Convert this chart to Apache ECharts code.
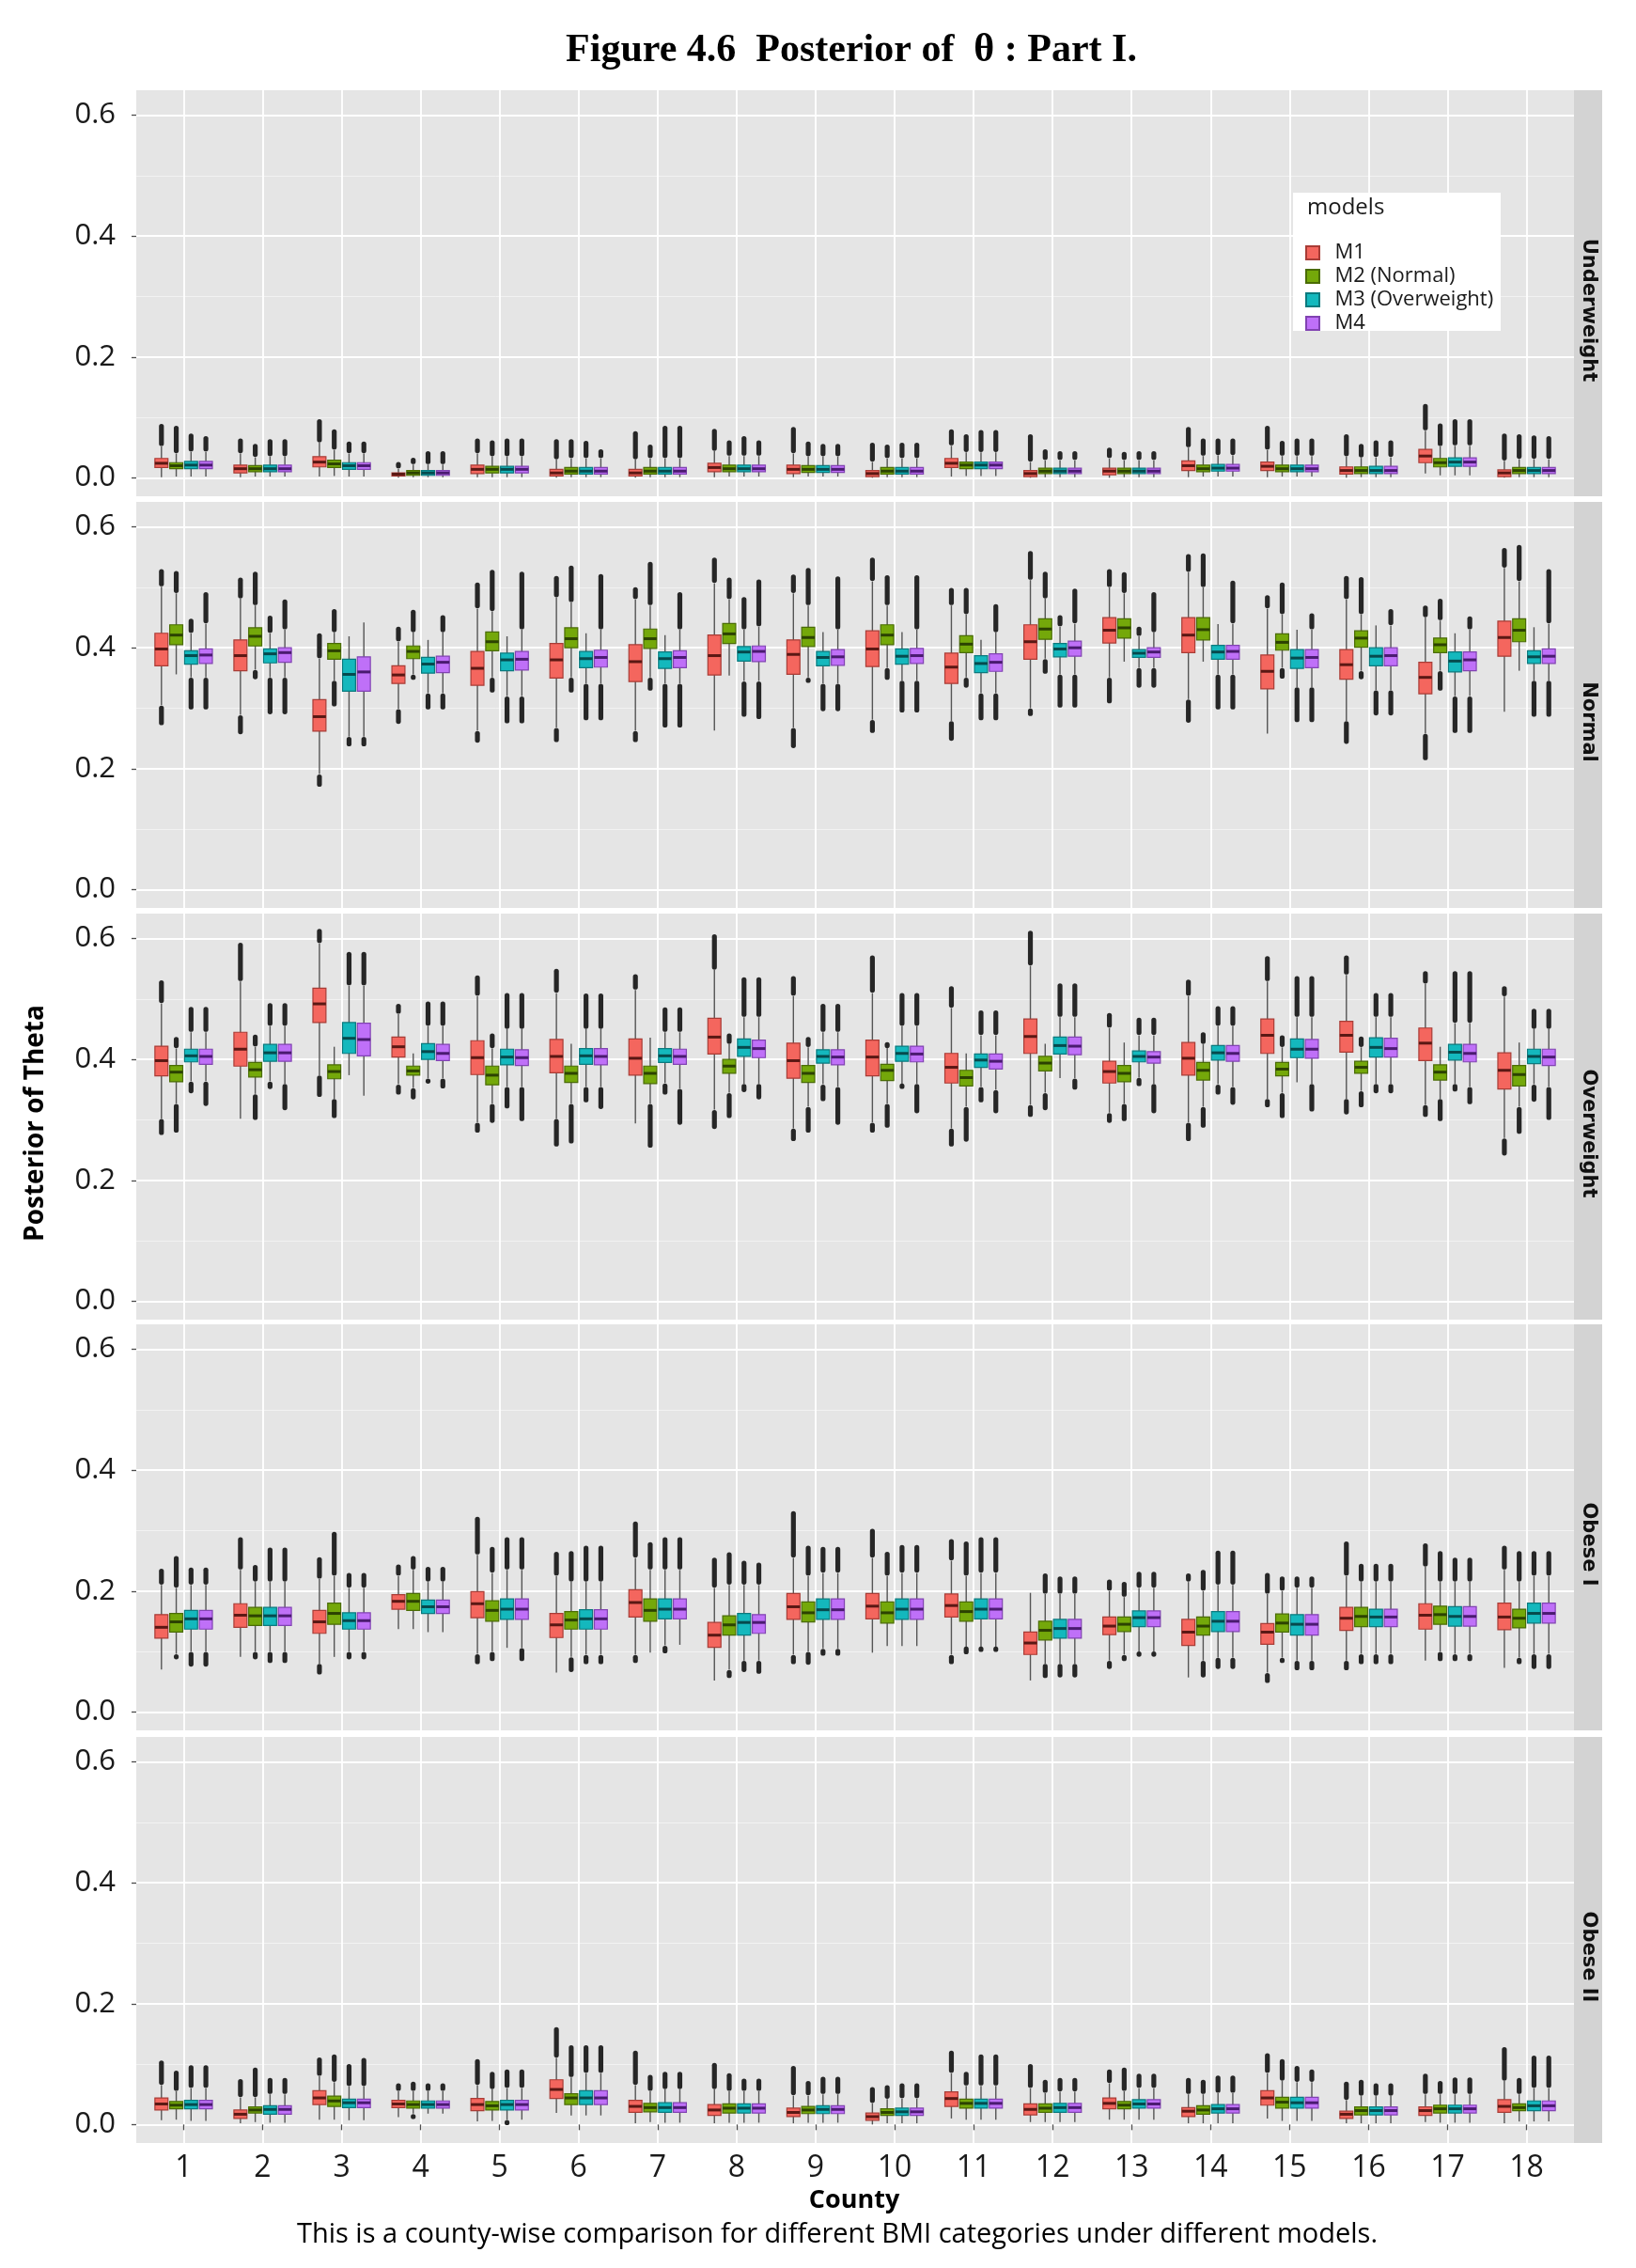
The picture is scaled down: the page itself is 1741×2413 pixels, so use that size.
<!DOCTYPE html>
<html>
<head>
<meta charset="utf-8">
<script src="https://cdn.jsdelivr.net/npm/echarts@6.0.0/dist/echarts.min.js"></script>
<style>
html, body { margin: 0; padding: 0; background: #fff; }
#chart { width: 1741px; height: 2413px; }
</style>
</head>
<body>
<div id="chart"></div>
<script>
// categories
const counties = [1, 2, 3, 4, 5, 6, 7, 8, 9, 10, 11, 12, 13, 14, 15, 16, 17, 18];
const models = ['M1', 'M2 (Normal)', 'M3 (Overweight)', 'M4'];
const panels = ['Underweight', 'Normal', 'Overweight', 'Obese I', 'Obese II'];
const yMajor = [0, 0.2, 0.4, 0.6];
const yMinor = [0.1, 0.3, 0.5];

// one row per county: [lower whisker, q1, median, q3, upper whisker, lowest outlier, highest outlier]
const underM1 = [
  [0.001, 0.017, 0.024, 0.032, 0.052, null, 0.085], [0.001, 0.008, 0.015, 0.021, 0.040, null, 0.061],
  [0.002, 0.018, 0.026, 0.035, 0.058, null, 0.093], [0.000, 0.003, 0.006, 0.008, 0.015, null, 0.022],
  [0.001, 0.007, 0.014, 0.021, 0.040, null, 0.061], [0.000, 0.003, 0.008, 0.014, 0.030, null, 0.060],
  [0.000, 0.003, 0.008, 0.014, 0.030, null, 0.073], [0.001, 0.010, 0.017, 0.024, 0.044, null, 0.077],
  [0.001, 0.007, 0.014, 0.021, 0.040, null, 0.080], [0.000, 0.002, 0.007, 0.012, 0.026, null, 0.054],
  [0.002, 0.017, 0.024, 0.032, 0.053, null, 0.076], [0.000, 0.002, 0.007, 0.012, 0.026, null, 0.068],
  [0.000, 0.005, 0.011, 0.016, 0.032, null, 0.046], [0.001, 0.012, 0.020, 0.028, 0.050, null, 0.080],
  [0.001, 0.012, 0.019, 0.026, 0.046, null, 0.082], [0.000, 0.006, 0.012, 0.018, 0.035, null, 0.068],
  [0.007, 0.025, 0.036, 0.047, 0.078, null, 0.118], [0.000, 0.002, 0.008, 0.013, 0.028, null, 0.069]
];
const underM2 = [
  [0.002, 0.015, 0.020, 0.025, 0.040, null, 0.082], [0.002, 0.010, 0.015, 0.020, 0.034, null, 0.052],
  [0.003, 0.017, 0.023, 0.029, 0.046, null, 0.076], [0.001, 0.004, 0.008, 0.012, 0.022, null, 0.029],
  [0.001, 0.008, 0.014, 0.019, 0.035, null, 0.058], [0.001, 0.006, 0.011, 0.017, 0.032, null, 0.060],
  [0.001, 0.006, 0.011, 0.017, 0.032, null, 0.051], [0.002, 0.010, 0.015, 0.021, 0.036, null, 0.058],
  [0.002, 0.009, 0.014, 0.020, 0.035, null, 0.056], [0.001, 0.006, 0.011, 0.017, 0.032, null, 0.051],
  [0.003, 0.015, 0.021, 0.026, 0.042, null, 0.068], [0.001, 0.007, 0.011, 0.016, 0.029, null, 0.043],
  [0.001, 0.007, 0.011, 0.016, 0.029, null, 0.039], [0.002, 0.010, 0.015, 0.021, 0.036, null, 0.061],
  [0.002, 0.010, 0.015, 0.021, 0.036, null, 0.057], [0.001, 0.007, 0.012, 0.018, 0.033, null, 0.052],
  [0.004, 0.018, 0.025, 0.032, 0.052, null, 0.086], [0.001, 0.007, 0.012, 0.017, 0.031, null, 0.068]
];
const underM3 = [
  [0.002, 0.015, 0.021, 0.027, 0.043, null, 0.069], [0.002, 0.010, 0.015, 0.021, 0.035, null, 0.060],
  [0.002, 0.014, 0.020, 0.025, 0.040, null, 0.056], [0.001, 0.004, 0.008, 0.012, 0.022, null, 0.040],
  [0.001, 0.008, 0.014, 0.019, 0.035, null, 0.061], [0.001, 0.006, 0.011, 0.017, 0.032, null, 0.057],
  [0.001, 0.006, 0.011, 0.017, 0.032, null, 0.082], [0.002, 0.010, 0.015, 0.021, 0.036, null, 0.065],
  [0.002, 0.009, 0.014, 0.020, 0.035, null, 0.052], [0.001, 0.006, 0.011, 0.017, 0.032, null, 0.054],
  [0.003, 0.015, 0.021, 0.026, 0.042, null, 0.075], [0.001, 0.007, 0.011, 0.016, 0.029, null, 0.040],
  [0.001, 0.007, 0.011, 0.016, 0.029, null, 0.040], [0.002, 0.011, 0.016, 0.022, 0.037, null, 0.061],
  [0.002, 0.010, 0.015, 0.021, 0.036, null, 0.061], [0.001, 0.007, 0.012, 0.019, 0.034, null, 0.058],
  [0.004, 0.019, 0.026, 0.033, 0.053, null, 0.093], [0.001, 0.007, 0.012, 0.017, 0.031, null, 0.066]
];
const underM4 = [
  [0.002, 0.015, 0.021, 0.027, 0.043, null, 0.065], [0.002, 0.010, 0.015, 0.021, 0.035, null, 0.060],
  [0.002, 0.014, 0.020, 0.025, 0.040, null, 0.056], [0.001, 0.004, 0.008, 0.012, 0.022, null, 0.040],
  [0.001, 0.008, 0.014, 0.019, 0.035, null, 0.061], [0.001, 0.006, 0.011, 0.017, 0.032, null, 0.043],
  [0.001, 0.006, 0.011, 0.017, 0.032, null, 0.082], [0.002, 0.010, 0.015, 0.021, 0.036, null, 0.058],
  [0.002, 0.009, 0.014, 0.020, 0.035, null, 0.052], [0.001, 0.006, 0.011, 0.017, 0.032, null, 0.054],
  [0.003, 0.015, 0.021, 0.026, 0.042, null, 0.075], [0.001, 0.007, 0.011, 0.016, 0.029, null, 0.040],
  [0.001, 0.007, 0.011, 0.016, 0.029, null, 0.040], [0.002, 0.011, 0.016, 0.022, 0.037, null, 0.061],
  [0.002, 0.010, 0.015, 0.021, 0.036, null, 0.061], [0.001, 0.007, 0.012, 0.019, 0.034, null, 0.058],
  [0.004, 0.019, 0.026, 0.033, 0.053, null, 0.093], [0.001, 0.007, 0.012, 0.017, 0.031, null, 0.065]
];

const normalM1 = [
  [0.305, 0.370, 0.398, 0.424, 0.501, 0.276, 0.526], [0.289, 0.362, 0.387, 0.413, 0.481, 0.261, 0.512],
  [0.191, 0.262, 0.286, 0.314, 0.382, 0.174, 0.420], [0.299, 0.341, 0.355, 0.370, 0.410, 0.278, 0.431],
  [0.263, 0.338, 0.366, 0.394, 0.465, 0.247, 0.504], [0.268, 0.350, 0.380, 0.407, 0.483, 0.248, 0.515],
  [0.263, 0.344, 0.377, 0.405, 0.480, 0.248, 0.496], [0.263, 0.355, 0.387, 0.421, 0.507, null, 0.545],
  [0.268, 0.356, 0.389, 0.413, 0.490, 0.238, 0.517], [0.281, 0.369, 0.398, 0.428, 0.510, 0.263, 0.545],
  [0.279, 0.341, 0.368, 0.391, 0.470, 0.250, 0.495], [0.300, 0.381, 0.410, 0.438, 0.512, 0.291, 0.556],
  [0.351, 0.408, 0.429, 0.450, 0.500, 0.312, 0.526], [0.315, 0.392, 0.421, 0.450, 0.525, 0.280, 0.551],
  [0.258, 0.332, 0.361, 0.388, 0.465, null, 0.483], [0.279, 0.348, 0.372, 0.397, 0.480, 0.245, 0.515],
  [0.258, 0.324, 0.351, 0.376, 0.450, 0.218, 0.466], [0.294, 0.386, 0.417, 0.444, 0.532, null, 0.561]
];
const normalM2 = [
  [0.356, 0.405, 0.421, 0.438, 0.490, null, 0.523], [0.364, 0.403, 0.419, 0.433, 0.470, 0.352, 0.522],
  [0.346, 0.381, 0.395, 0.407, 0.425, 0.307, 0.460], [0.356, 0.382, 0.394, 0.403, 0.425, 0.351, 0.459],
  [0.351, 0.395, 0.410, 0.426, 0.460, 0.330, 0.525], [0.351, 0.400, 0.415, 0.433, 0.475, 0.330, 0.532],
  [0.351, 0.399, 0.415, 0.431, 0.470, 0.333, 0.538], [0.354, 0.407, 0.423, 0.440, 0.480, null, 0.512],
  [0.351, 0.402, 0.417, 0.434, 0.470, 0.346, 0.528], [0.367, 0.405, 0.421, 0.438, 0.470, 0.351, 0.516],
  [0.351, 0.392, 0.406, 0.420, 0.455, 0.338, 0.495], [0.382, 0.414, 0.431, 0.448, 0.481, 0.361, 0.522],
  [0.377, 0.416, 0.433, 0.448, 0.490, null, 0.521], [0.377, 0.413, 0.430, 0.450, 0.500, null, 0.552],
  [0.367, 0.396, 0.409, 0.423, 0.455, 0.353, 0.504], [0.362, 0.401, 0.416, 0.428, 0.455, 0.352, 0.513],
  [0.362, 0.392, 0.405, 0.416, 0.445, 0.333, 0.477], [0.362, 0.410, 0.429, 0.448, 0.510, null, 0.566]
];
const normalM3 = [
  [0.351, 0.373, 0.387, 0.395, 0.424, 0.302, 0.444], [0.351, 0.375, 0.390, 0.398, 0.424, 0.294, 0.449],
  [0.253, 0.328, 0.356, 0.381, 0.419, 0.241, null], [0.325, 0.358, 0.373, 0.384, 0.413, 0.302, null],
  [0.320, 0.362, 0.380, 0.391, 0.419, 0.279, null], [0.341, 0.367, 0.382, 0.394, 0.424, 0.284, null],
  [0.341, 0.366, 0.382, 0.393, 0.421, 0.272, null], [0.345, 0.378, 0.393, 0.402, 0.430, 0.290, 0.480],
  [0.341, 0.370, 0.384, 0.394, 0.426, 0.299, null], [0.346, 0.373, 0.386, 0.398, 0.426, 0.297, null],
  [0.325, 0.359, 0.374, 0.387, 0.413, 0.284, null], [0.356, 0.385, 0.398, 0.407, 0.435, 0.305, 0.450],
  [0.367, 0.384, 0.391, 0.397, 0.419, 0.338, 0.431], [0.356, 0.381, 0.393, 0.404, 0.439, 0.302, null],
  [0.335, 0.366, 0.383, 0.397, 0.430, 0.281, null], [0.330, 0.370, 0.386, 0.400, 0.437, 0.292, null],
  [0.320, 0.360, 0.378, 0.393, 0.424, 0.263, null], [0.346, 0.374, 0.385, 0.395, 0.434, 0.290, null]
];
const normalM4 = [
  [0.351, 0.374, 0.388, 0.398, 0.440, 0.302, 0.488], [0.351, 0.376, 0.392, 0.400, 0.430, 0.294, 0.476],
  [0.253, 0.328, 0.360, 0.385, 0.442, 0.241, null], [0.325, 0.359, 0.376, 0.386, 0.425, 0.302, 0.450],
  [0.320, 0.363, 0.381, 0.394, 0.430, 0.279, 0.522], [0.341, 0.368, 0.384, 0.396, 0.430, 0.284, 0.518],
  [0.341, 0.367, 0.384, 0.395, 0.430, 0.272, 0.488], [0.345, 0.377, 0.394, 0.403, 0.435, 0.286, 0.509],
  [0.341, 0.371, 0.385, 0.397, 0.430, 0.299, 0.514], [0.346, 0.374, 0.387, 0.399, 0.430, 0.297, 0.516],
  [0.325, 0.361, 0.376, 0.390, 0.425, 0.284, 0.468], [0.356, 0.386, 0.400, 0.411, 0.440, 0.305, 0.494],
  [0.367, 0.384, 0.393, 0.400, 0.425, 0.338, 0.488], [0.356, 0.381, 0.394, 0.404, 0.440, 0.302, 0.507],
  [0.335, 0.367, 0.384, 0.397, 0.430, 0.281, 0.453], [0.330, 0.370, 0.387, 0.400, 0.437, 0.292, 0.460],
  [0.320, 0.362, 0.380, 0.393, 0.430, 0.263, 0.448], [0.346, 0.374, 0.386, 0.398, 0.440, 0.290, 0.526]
];

const overM1 = [
  [0.302, 0.373, 0.398, 0.422, 0.493, 0.279, 0.527], [0.302, 0.389, 0.417, 0.445, 0.529, null, 0.589],
  [0.374, 0.461, 0.492, 0.518, 0.592, 0.342, 0.612], [0.359, 0.404, 0.421, 0.437, 0.475, 0.346, 0.488],
  [0.296, 0.375, 0.403, 0.431, 0.505, 0.283, 0.535], [0.302, 0.378, 0.405, 0.433, 0.510, 0.260, 0.546],
  [0.294, 0.374, 0.402, 0.434, 0.515, null, 0.537], [0.317, 0.409, 0.437, 0.468, 0.548, 0.289, 0.603],
  [0.286, 0.369, 0.398, 0.427, 0.505, 0.269, 0.534], [0.296, 0.373, 0.404, 0.432, 0.510, 0.283, 0.568],
  [0.286, 0.361, 0.387, 0.410, 0.485, 0.260, 0.517], [0.325, 0.410, 0.438, 0.467, 0.555, 0.309, 0.609],
  [0.312, 0.361, 0.380, 0.397, 0.452, 0.299, 0.473], [0.296, 0.374, 0.402, 0.428, 0.505, 0.269, 0.528],
  [0.335, 0.410, 0.440, 0.467, 0.529, 0.325, 0.567], [0.335, 0.412, 0.440, 0.463, 0.540, 0.313, 0.568],
  [0.325, 0.398, 0.427, 0.452, 0.525, 0.309, 0.542], [0.270, 0.351, 0.382, 0.411, 0.504, 0.245, 0.517]
];
const overM2 = [
  [0.327, 0.363, 0.379, 0.390, 0.418, 0.283, 0.433], [0.343, 0.371, 0.383, 0.395, 0.421, 0.304, 0.437],
  [0.335, 0.368, 0.380, 0.391, 0.421, 0.307, null], [0.353, 0.374, 0.381, 0.389, 0.410, 0.338, null],
  [0.327, 0.358, 0.374, 0.389, 0.418, 0.299, 0.439], [0.327, 0.362, 0.377, 0.389, 0.426, 0.265, null],
  [0.327, 0.360, 0.377, 0.389, 0.436, 0.258, null], [0.345, 0.377, 0.389, 0.400, 0.425, 0.307, 0.439],
  [0.322, 0.362, 0.377, 0.390, 0.420, 0.283, 0.433], [0.327, 0.365, 0.382, 0.392, 0.420, 0.291, 0.423],
  [0.322, 0.356, 0.370, 0.382, 0.410, 0.268, null], [0.345, 0.381, 0.394, 0.405, 0.426, 0.320, null],
  [0.327, 0.363, 0.377, 0.390, 0.428, 0.302, null], [0.322, 0.366, 0.382, 0.395, 0.425, 0.291, 0.441],
  [0.345, 0.373, 0.384, 0.395, 0.420, 0.307, 0.436], [0.348, 0.377, 0.387, 0.397, 0.420, 0.325, 0.434],
  [0.335, 0.366, 0.379, 0.391, 0.421, 0.302, null], [0.322, 0.356, 0.375, 0.390, 0.428, 0.281, null]
];
const overM3 = [
  [0.364, 0.396, 0.406, 0.417, 0.445, 0.348, 0.483], [0.364, 0.397, 0.411, 0.425, 0.455, 0.355, 0.489],
  [0.374, 0.410, 0.435, 0.461, 0.522, null, 0.574], [0.369, 0.400, 0.413, 0.426, 0.455, 0.364, 0.492],
  [0.355, 0.391, 0.404, 0.417, 0.450, 0.323, 0.506], [0.355, 0.392, 0.406, 0.418, 0.450, 0.333, 0.505],
  [0.361, 0.395, 0.406, 0.418, 0.445, 0.346, 0.482], [0.360, 0.405, 0.420, 0.434, 0.470, 0.350, 0.532],
  [0.359, 0.394, 0.405, 0.416, 0.445, 0.335, 0.488], [0.360, 0.397, 0.410, 0.422, 0.455, 0.356, 0.506],
  [0.355, 0.387, 0.399, 0.409, 0.440, 0.333, 0.477], [0.369, 0.409, 0.423, 0.437, 0.470, null, 0.522],
  [0.370, 0.396, 0.405, 0.414, 0.440, 0.360, 0.465], [0.359, 0.399, 0.411, 0.423, 0.455, 0.346, 0.484],
  [0.362, 0.403, 0.417, 0.434, 0.470, null, 0.534], [0.360, 0.404, 0.420, 0.436, 0.470, 0.348, 0.506],
  [0.360, 0.399, 0.412, 0.425, 0.460, 0.351, 0.542], [0.359, 0.393, 0.405, 0.417, 0.450, 0.334, 0.480]
];
const overM4 = [
  [0.364, 0.392, 0.405, 0.417, 0.445, 0.327, 0.483], [0.360, 0.397, 0.411, 0.425, 0.455, 0.320, 0.489],
  [0.340, 0.406, 0.433, 0.460, 0.522, null, 0.574], [0.369, 0.398, 0.410, 0.425, 0.455, 0.356, 0.492],
  [0.355, 0.390, 0.403, 0.416, 0.450, 0.302, 0.506], [0.355, 0.391, 0.405, 0.418, 0.450, 0.322, 0.505],
  [0.352, 0.392, 0.405, 0.417, 0.445, 0.296, 0.482], [0.360, 0.403, 0.418, 0.432, 0.470, 0.338, 0.532],
  [0.355, 0.391, 0.404, 0.416, 0.445, 0.296, 0.488], [0.360, 0.396, 0.409, 0.422, 0.455, 0.315, 0.506],
  [0.350, 0.384, 0.397, 0.409, 0.440, 0.315, 0.477], [0.369, 0.408, 0.422, 0.437, 0.470, 0.354, 0.522],
  [0.360, 0.394, 0.404, 0.413, 0.440, 0.315, 0.465], [0.355, 0.397, 0.410, 0.423, 0.455, 0.329, 0.484],
  [0.360, 0.402, 0.417, 0.433, 0.470, 0.318, 0.534], [0.360, 0.404, 0.418, 0.435, 0.470, 0.348, 0.506],
  [0.355, 0.396, 0.410, 0.425, 0.460, 0.330, 0.542], [0.355, 0.390, 0.404, 0.417, 0.450, 0.304, 0.480]
];

const obese1M1 = [
  [0.070, 0.122, 0.140, 0.161, 0.210, null, 0.233], [0.091, 0.140, 0.160, 0.179, 0.235, null, 0.285],
  [0.080, 0.130, 0.149, 0.168, 0.220, 0.066, 0.252], [0.137, 0.170, 0.183, 0.194, 0.225, null, 0.240],
  [0.096, 0.156, 0.179, 0.199, 0.260, 0.083, 0.319], [0.065, 0.123, 0.144, 0.163, 0.225, null, 0.261],
  [0.095, 0.157, 0.181, 0.202, 0.255, 0.085, 0.311], [0.052, 0.107, 0.127, 0.148, 0.205, null, 0.251],
  [0.095, 0.153, 0.174, 0.196, 0.255, 0.083, 0.328], [0.098, 0.154, 0.175, 0.196, 0.255, null, 0.299],
  [0.095, 0.157, 0.176, 0.195, 0.250, 0.083, 0.282], [0.052, 0.095, 0.114, 0.132, 0.197, null, null],
  [0.085, 0.128, 0.142, 0.157, 0.200, 0.075, 0.215], [0.057, 0.110, 0.132, 0.153, 0.215, null, 0.225],
  [0.065, 0.112, 0.132, 0.146, 0.195, 0.052, 0.226], [0.085, 0.135, 0.155, 0.173, 0.225, 0.073, 0.278],
  [0.085, 0.137, 0.160, 0.179, 0.240, null, 0.275], [0.073, 0.136, 0.157, 0.180, 0.235, null, 0.271]
];
const obese1M2 = [
  [0.096, 0.132, 0.149, 0.163, 0.205, 0.091, 0.254], [0.100, 0.143, 0.159, 0.173, 0.215, 0.091, 0.239],
  [0.091, 0.145, 0.163, 0.180, 0.225, null, 0.294], [0.137, 0.168, 0.183, 0.196, 0.235, null, 0.254],
  [0.100, 0.150, 0.168, 0.184, 0.230, 0.088, 0.269], [0.091, 0.137, 0.152, 0.166, 0.215, 0.070, 0.262],
  [0.098, 0.150, 0.168, 0.187, 0.235, null, 0.277], [0.070, 0.127, 0.144, 0.159, 0.210, 0.060, 0.260],
  [0.100, 0.149, 0.164, 0.182, 0.225, 0.082, 0.271], [0.109, 0.147, 0.164, 0.182, 0.225, null, 0.261],
  [0.104, 0.150, 0.166, 0.182, 0.225, 0.104, 0.278], [0.080, 0.119, 0.135, 0.150, 0.195, 0.060, 0.225],
  [0.095, 0.133, 0.145, 0.157, 0.190, 0.088, 0.211], [0.085, 0.127, 0.142, 0.157, 0.200, 0.061, 0.231],
  [0.090, 0.132, 0.147, 0.162, 0.200, 0.085, 0.220], [0.096, 0.141, 0.158, 0.173, 0.215, 0.083, 0.241],
  [0.100, 0.145, 0.161, 0.175, 0.215, 0.088, 0.262], [0.090, 0.139, 0.155, 0.170, 0.215, 0.083, 0.262]
];
const obese1M3 = [
  [0.100, 0.137, 0.154, 0.168, 0.210, 0.079, 0.235], [0.100, 0.143, 0.159, 0.173, 0.215, 0.085, 0.268],
  [0.100, 0.137, 0.151, 0.164, 0.205, 0.091, 0.226], [0.132, 0.163, 0.174, 0.185, 0.215, null, 0.236],
  [0.106, 0.153, 0.170, 0.187, 0.235, null, 0.285], [0.095, 0.137, 0.154, 0.169, 0.215, 0.083, 0.271],
  [0.110, 0.154, 0.170, 0.187, 0.235, 0.101, 0.285], [0.085, 0.127, 0.148, 0.163, 0.210, 0.070, 0.246],
  [0.105, 0.153, 0.169, 0.187, 0.230, 0.097, 0.269], [0.109, 0.153, 0.170, 0.187, 0.230, null, 0.272],
  [0.108, 0.154, 0.170, 0.187, 0.230, 0.104, 0.285], [0.080, 0.122, 0.138, 0.153, 0.195, 0.061, 0.220],
  [0.100, 0.141, 0.156, 0.167, 0.205, 0.096, 0.228], [0.090, 0.133, 0.150, 0.166, 0.210, 0.075, 0.263],
  [0.085, 0.127, 0.145, 0.161, 0.205, 0.073, 0.220], [0.096, 0.141, 0.157, 0.170, 0.215, 0.083, 0.241],
  [0.096, 0.142, 0.158, 0.174, 0.215, 0.088, 0.251], [0.096, 0.147, 0.163, 0.180, 0.225, 0.075, 0.262]
];
const obese1M4 = [
  [0.100, 0.137, 0.154, 0.168, 0.210, 0.079, 0.235], [0.100, 0.143, 0.159, 0.173, 0.215, 0.085, 0.268],
  [0.100, 0.137, 0.151, 0.164, 0.205, 0.091, 0.226], [0.132, 0.163, 0.174, 0.185, 0.215, null, 0.236],
  [0.106, 0.153, 0.170, 0.187, 0.235, 0.088, 0.285], [0.095, 0.137, 0.154, 0.169, 0.215, 0.083, 0.271],
  [0.111, 0.154, 0.170, 0.187, 0.235, null, 0.285], [0.085, 0.130, 0.148, 0.161, 0.210, 0.067, 0.243],
  [0.105, 0.153, 0.169, 0.187, 0.230, 0.097, 0.269], [0.109, 0.153, 0.170, 0.187, 0.230, null, 0.272],
  [0.108, 0.154, 0.170, 0.187, 0.230, 0.104, 0.285], [0.080, 0.122, 0.138, 0.153, 0.195, 0.061, 0.220],
  [0.100, 0.141, 0.156, 0.167, 0.205, 0.096, 0.228], [0.090, 0.133, 0.150, 0.166, 0.210, 0.075, 0.263],
  [0.085, 0.127, 0.145, 0.161, 0.205, 0.073, 0.220], [0.096, 0.141, 0.157, 0.170, 0.215, 0.083, 0.241],
  [0.096, 0.142, 0.158, 0.174, 0.215, 0.088, 0.251], [0.096, 0.147, 0.163, 0.180, 0.225, 0.075, 0.262]
];

const obese2M1 = [
  [0.007, 0.024, 0.034, 0.044, 0.065, null, 0.102], [0.002, 0.010, 0.017, 0.024, 0.045, null, 0.071],
  [0.008, 0.033, 0.044, 0.056, 0.080, null, 0.107], [0.012, 0.028, 0.034, 0.040, 0.055, null, 0.064],
  [0.005, 0.023, 0.033, 0.043, 0.065, null, 0.104], [0.019, 0.043, 0.058, 0.074, 0.110, null, 0.157],
  [0.002, 0.020, 0.030, 0.040, 0.065, null, 0.118], [0.002, 0.015, 0.024, 0.033, 0.058, null, 0.098],
  [0.002, 0.013, 0.020, 0.027, 0.048, null, 0.093], [0.000, 0.007, 0.013, 0.019, 0.035, null, 0.058],
  [0.010, 0.030, 0.043, 0.054, 0.085, null, 0.118], [0.004, 0.016, 0.025, 0.034, 0.060, null, 0.096],
  [0.008, 0.026, 0.035, 0.044, 0.068, null, 0.087], [0.002, 0.013, 0.022, 0.028, 0.050, null, 0.073],
  [0.010, 0.032, 0.044, 0.056, 0.085, null, 0.114], [0.002, 0.010, 0.017, 0.022, 0.040, null, 0.067],
  [0.004, 0.015, 0.023, 0.029, 0.050, null, 0.080], [0.002, 0.020, 0.030, 0.041, 0.072, null, 0.124]
];
const obese2M2 = [
  [0.008, 0.026, 0.032, 0.038, 0.055, null, 0.085], [0.004, 0.019, 0.024, 0.029, 0.045, null, 0.090],
  [0.008, 0.030, 0.039, 0.047, 0.070, null, 0.112], [0.018, 0.027, 0.033, 0.039, 0.055, 0.013, 0.067],
  [0.006, 0.024, 0.031, 0.038, 0.058, null, 0.083], [0.015, 0.033, 0.044, 0.051, 0.078, null, 0.127],
  [0.004, 0.021, 0.028, 0.035, 0.055, null, 0.078], [0.003, 0.019, 0.027, 0.034, 0.055, null, 0.081],
  [0.003, 0.018, 0.024, 0.030, 0.048, null, 0.068], [0.002, 0.015, 0.020, 0.026, 0.042, null, 0.061],
  [0.008, 0.027, 0.035, 0.042, 0.064, null, 0.083], [0.004, 0.020, 0.027, 0.034, 0.052, null, 0.070],
  [0.008, 0.026, 0.032, 0.038, 0.055, null, 0.090], [0.002, 0.017, 0.024, 0.031, 0.050, null, 0.070],
  [0.006, 0.027, 0.037, 0.045, 0.072, null, 0.104], [0.002, 0.016, 0.023, 0.029, 0.047, null, 0.070],
  [0.003, 0.019, 0.026, 0.032, 0.050, null, 0.068], [0.005, 0.023, 0.028, 0.034, 0.050, null, 0.073]
];
const obese2M3 = [
  [0.006, 0.026, 0.033, 0.040, 0.060, null, 0.094], [0.003, 0.017, 0.025, 0.031, 0.050, null, 0.073],
  [0.007, 0.028, 0.036, 0.042, 0.063, null, 0.096], [0.018, 0.027, 0.033, 0.039, 0.055, null, 0.064],
  [0.008, 0.024, 0.033, 0.040, 0.060, 0.003, 0.087], [0.015, 0.033, 0.044, 0.056, 0.085, null, 0.127],
  [0.003, 0.020, 0.028, 0.036, 0.058, null, 0.083], [0.003, 0.019, 0.027, 0.034, 0.055, null, 0.072],
  [0.003, 0.018, 0.025, 0.031, 0.050, null, 0.075], [0.002, 0.015, 0.021, 0.027, 0.043, null, 0.064],
  [0.008, 0.027, 0.035, 0.042, 0.064, null, 0.112], [0.004, 0.020, 0.028, 0.035, 0.054, null, 0.073],
  [0.008, 0.027, 0.034, 0.041, 0.060, null, 0.080], [0.002, 0.019, 0.026, 0.033, 0.052, null, 0.077],
  [0.006, 0.027, 0.036, 0.045, 0.070, null, 0.093], [0.002, 0.016, 0.023, 0.029, 0.047, null, 0.064],
  [0.003, 0.019, 0.026, 0.032, 0.050, null, 0.074], [0.005, 0.023, 0.031, 0.039, 0.060, null, 0.110]
];
const obese2M4 = [
  [0.006, 0.026, 0.033, 0.040, 0.060, null, 0.094], [0.003, 0.017, 0.025, 0.031, 0.050, null, 0.073],
  [0.007, 0.028, 0.036, 0.042, 0.063, null, 0.106], [0.018, 0.027, 0.033, 0.039, 0.055, null, 0.064],
  [0.008, 0.024, 0.033, 0.040, 0.060, null, 0.087], [0.015, 0.033, 0.044, 0.056, 0.085, null, 0.127],
  [0.003, 0.020, 0.028, 0.036, 0.058, null, 0.083], [0.003, 0.019, 0.027, 0.034, 0.055, null, 0.072],
  [0.003, 0.018, 0.025, 0.031, 0.050, null, 0.075], [0.002, 0.015, 0.021, 0.027, 0.043, null, 0.064],
  [0.008, 0.027, 0.035, 0.042, 0.064, null, 0.112], [0.004, 0.020, 0.028, 0.035, 0.054, null, 0.073],
  [0.008, 0.027, 0.034, 0.041, 0.060, null, 0.080], [0.002, 0.019, 0.026, 0.033, 0.052, null, 0.077],
  [0.006, 0.027, 0.036, 0.045, 0.070, null, 0.087], [0.002, 0.016, 0.023, 0.029, 0.047, null, 0.064],
  [0.003, 0.019, 0.026, 0.032, 0.050, null, 0.074], [0.005, 0.023, 0.031, 0.039, 0.060, null, 0.110]
];

const panelData = [
  [underM1, underM2, underM3, underM4],
  [normalM1, normalM2, normalM3, normalM4],
  [overM1, overM2, overM3, overM4],
  [obese1M1, obese1M2, obese1M3, obese1M4],
  [obese2M1, obese2M2, obese2M3, obese2M4]
];

// look
const fills = ['#F4665E', '#74A80A', '#14B8BD', '#BF70F8'];
const strokes = ['#A83C36', '#4A6C05', '#0B7A7E', '#8143B2'];
const medianCols = ['#5A1814', '#2C4202', '#064A4D', '#4A1B70'];
const dodge = [-0.28125, -0.09375, 0.09375, 0.28125];
const boxWidth = 0.165;
const gridTops = [96, 534, 972, 1409, 1848];
const gridH = 432;
const font = '"Open Sans", "Noto Sans", sans-serif';

function boxRenderer(m) {
  return function (params, api) {
    const cx = api.value(0) + dodge[m];
    const lo = api.value(1), q1 = api.value(2), md = api.value(3), q3 = api.value(4), hi = api.value(5);
    const oLo = api.value(6), oHi = api.value(7);
    const yOf = v => api.coord([cx, v])[1];
    const x = api.coord([cx, md])[0];
    const half = api.size([boxWidth, 0])[0] / 2;
    const kids = [];
    kids.push({ type: 'line', shape: { x1: x, y1: yOf(lo), x2: x, y2: yOf(hi) },
      style: { stroke: '#555555', lineWidth: 1.4 } });
    if (Number.isFinite(oHi)) {
      kids.push({ type: 'line', shape: { x1: x, y1: yOf(hi) - 3, x2: x, y2: yOf(oHi) },
        style: { stroke: '#262626', lineWidth: 5.2, lineCap: 'round' } });
    }
    if (Number.isFinite(oLo)) {
      kids.push({ type: 'line', shape: { x1: x, y1: yOf(lo) + 3, x2: x, y2: yOf(oLo) },
        style: { stroke: '#262626', lineWidth: 5.2, lineCap: 'round' } });
    }
    kids.push({ type: 'rect', shape: { x: x - half, y: yOf(q3), width: half * 2, height: yOf(q1) - yOf(q3) },
      style: { fill: fills[m], stroke: strokes[m], lineWidth: 1.2 } });
    kids.push({ type: 'line', shape: { x1: x - half, y1: yOf(md), x2: x + half, y2: yOf(md) },
      style: { stroke: medianCols[m], lineWidth: 3 } });
    return { type: 'group', children: kids };
  };
}

const grids = gridTops.map(t => ({
  left: 145, right: 66, top: t, height: gridH,
  show: true, backgroundColor: '#E5E5E5', borderWidth: 0
}));

const xAxes = panels.map((_, p) => ({
  type: 'value', gridIndex: p, min: 0.4, max: 18.6,
  axisLine: { show: false },
  axisTick: { show: p === 4, customValues: counties, length: 6, lineStyle: { color: '#4d4d4d', width: 1.3 } },
  axisLabel: { show: p === 4, customValues: counties, fontSize: 32, fontFamily: font, color: '#1a1a1a', margin: 11 },
  splitLine: { show: true, lineStyle: { color: '#ffffff', width: 1.8 } }
}));

const yAxes = [];
panels.forEach((_, p) => {
  yAxes.push({
    type: 'value', gridIndex: p, min: -0.0306, max: 0.6414,
    axisLine: { show: false },
    axisTick: { show: true, customValues: yMajor, length: 5, lineStyle: { color: '#4d4d4d', width: 1.3 } },
    axisLabel: { customValues: yMajor, formatter: v => v.toFixed(1), fontSize: 31, fontFamily: font, color: '#1a1a1a', margin: 22 },
    splitLine: { show: true, lineStyle: { color: '#ffffff', width: 1.8 } }
  });
});
panels.forEach((_, p) => {
  yAxes.push({
    type: 'value', gridIndex: p, min: -0.0306, max: 0.6414, position: 'left',
    axisLine: { show: false },
    axisTick: { show: false, customValues: yMinor },
    axisLabel: { show: false, customValues: yMinor },
    splitLine: { show: true, lineStyle: { color: '#F2F2F2', width: 1 } }
  });
});

const series = [];
panelData.forEach((rows, p) => {
  rows.forEach((arr, m) => {
    series.push({
      type: 'custom',
      name: models[m],
      xAxisIndex: p,
      yAxisIndex: p,
      data: counties.map((c, i) => [c].concat(arr[i])),
      encode: { x: 0, y: [1, 5] },
      renderItem: boxRenderer(m),
      itemStyle: { color: fills[m], borderColor: strokes[m], borderWidth: 1 },
      z: 3
    });
  });
});

const centered = { align: 'center', verticalAlign: 'middle', textAlign: 'center', textVerticalAlign: 'middle' };
const graphics = [];
gridTops.forEach((t, p) => {
  graphics.push({ type: 'rect', z: 1, shape: { x: 1675, y: t, width: 30, height: gridH }, style: { fill: '#D3D3D3' } });
  graphics.push({ type: 'text', z: 2, x: 1690, y: t + gridH / 2 + 18, rotation: -Math.PI / 2,
    style: Object.assign({ text: panels[p], font: 'bold 21px "DejaVu Sans", sans-serif', fill: '#111' }, centered) });
});
// legend box
graphics.push({ type: 'rect', z: 5, shape: { x: 1376, y: 205, width: 221, height: 147 }, style: { fill: '#ffffff' } });
graphics.push({ type: 'text', z: 6, x: 1391, y: 221,
  style: { text: 'models', font: '24px ' + font, fill: '#1a1a1a', align: 'left', verticalAlign: 'middle', textAlign: 'left', textVerticalAlign: 'middle' } });
// titles
graphics.push({ type: 'text', z: 6, x: 906, y: 54,
  style: Object.assign({ text: 'Figure 4.6  Posterior of  θ : Part I.', font: 'bold 42px "Liberation Serif", "Times New Roman", serif', fill: '#000' }, centered) });
graphics.push({ type: 'text', z: 6, x: 38, y: 1195, rotation: Math.PI / 2,
  style: Object.assign({ text: 'Posterior of Theta', font: 'bold 28px ' + font, fill: '#000' }, centered) });
graphics.push({ type: 'text', z: 6, x: 909, y: 2341,
  style: Object.assign({ text: 'County', font: 'bold 27px ' + font, fill: '#000' }, centered) });
graphics.push({ type: 'text', z: 6, x: 891, y: 2378,
  style: Object.assign({ text: 'This is a county-wise comparison for different BMI categories under different models.', font: '29px ' + font, fill: '#000' }, centered) });

const chart = echarts.init(document.getElementById('chart'), null, { renderer: 'canvas' });
chart.setOption({
  animation: false,
  backgroundColor: '#ffffff',
  textStyle: { fontFamily: font },
  grid: grids,
  xAxis: xAxes,
  yAxis: yAxes,
  legend: {
    data: models,
    orient: 'vertical',
    left: 1384,
    top: 253,
    itemWidth: 14,
    itemHeight: 14,
    itemGap: 3,
    icon: 'rect',
    z: 10,
    formatter: name => '  ' + name,
    textStyle: { fontSize: 22, fontFamily: font, color: '#1a1a1a' }
  },
  graphic: { elements: graphics },
  series: series
});
</script>
</body>
</html>
